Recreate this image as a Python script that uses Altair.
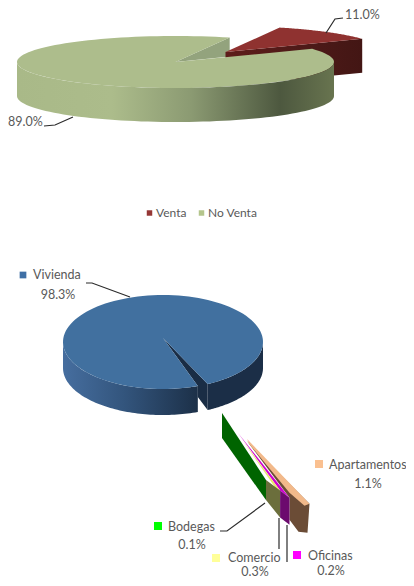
import math
import altair as alt
import pandas as pd

# ---- values ----
top_names = ["Venta", "No Venta"]
top_shares = [11.0, 89.0]
low_names = ["Vivienda", "Apartamentos", "Comercio", "Oficinas", "Bodegas"]
low_shares = [98.3, 1.1, 0.3, 0.2, 0.1]

# ---- styling ----
FONT = "Lato"
GREY = "#595959"
W, H = 398, 570


def ell(c, r, t):
    a = math.radians(t)
    return (c[0] + r[0] * math.cos(a), c[1] - r[1] * math.sin(a))


def arc(c, r, t0, t1, n=72):
    return [ell(c, r, t0 + (t1 - t0) * i / n) for i in range(n + 1)]


X = alt.X("x:Q", scale=alt.Scale(domain=[8, 406]), axis=None)
Y = alt.Y("y:Q", scale=alt.Scale(domain=[578, 8]), axis=None)


def poly(points, fill):
    df = pd.DataFrame({"x": [p[0] for p in points], "y": [p[1] for p in points], "i": range(len(points))})
    return alt.Chart(df).mark_line(interpolate="linear-closed", fill=fill, strokeWidth=0, stroke="transparent").encode(
        x=X, y=Y, order="i:Q")


def grad(stops):
    return alt.Gradient(gradient="linear", x1=0, x2=1, y1=0, y2=0,
                        stops=[alt.GradientStop(offset=o, color=c) for o, c in stops])


def side(c, r, t0, t1, depth, fill):
    pts = arc(c, r, t0, t1)
    df = pd.DataFrame({"x": [p[0] for p in pts], "y": [p[1] for p in pts], "y2": [p[1] + depth for p in pts]})
    return alt.Chart(df).mark_area(fill=fill, interpolate="linear").encode(x=X, y=Y, y2="y2:Q")


def leader(points):
    return poly_line(points, "#2b2b2b")


def poly_line(points, color):
    df = pd.DataFrame({"x": [p[0] for p in points], "y": [p[1] for p in points], "i": range(len(points))})
    return alt.Chart(df).mark_line(color=color, strokeWidth=1.2).encode(x=X, y=Y, order="i:Q")


def label(x, y, text, align="left", size=12.5, color=GREY):
    df = pd.DataFrame({"x": [x], "y": [y], "t": [text]})
    return alt.Chart(df).mark_text(font=FONT, fontSize=size, color=color, align=align, baseline="middle").encode(
        x=X, y=Y, text="t:N")


def swatch(x, y, color, size=49):
    df = pd.DataFrame({"x": [x], "y": [y]})
    return alt.Chart(df).mark_square(size=size, color=color, opacity=1).encode(x=X, y=Y)


layers = []

# ---- upper pie ----
C1, R1, D1 = (175.5, 62), (158.5, 26), 34
gap_top = top_shares[0] / 100 * 360
green_start = 70
green_end = green_start + top_shares[1] / 100 * 360
red_c = (C1[0] + 50, C1[1] - 10)
g0 = ell(C1, R1, green_start)
layers.append(poly([C1, g0, (g0[0], g0[1] + 19)], "#93a37d"))
ra, rb = ell(red_c, R1, green_end - 360 + gap_top), ell(red_c, R1, green_end - 360)
layers.append(poly([red_c, rb, (rb[0], rb[1] + D1), (red_c[0], red_c[1] + D1)],
                   grad([(0, "#5e1c1a"), (0.6, "#4d1a18"), (1, "#431614")])))
layers.append(poly([red_c] + arc(red_c, R1, green_end - 360 + gap_top, green_end - 360), "#8f3230"))
layers.append(poly([C1] + arc(C1, R1, green_start, green_end, 120), "#adbd8c"))
layers.append(side(C1, R1, 180, 360, D1,
                   grad([(0, "#a9b988"), (0.3, "#acbc8b"), (0.55, "#8b9a72"), (0.83, "#4d583f"), (1, "#68744f")])))

layers += [
    leader([(326, 33), (335, 19), (343, 18)]),
    label(345, 15, f"{top_shares[0]:.1f}%"),
    leader([(44, 126), (55, 125), (73, 117)]),
    label(8, 122, f"{top_shares[1]:.1f}%"),
    swatch(149.5, 213, "#953735", 30),
    label(156, 213, top_names[0], size=12),
    swatch(201.5, 213, "#b4c58c", 30),
    label(208, 213, top_names[1], size=12),
]

# ---- lower pie ----
C2, R2, D2 = (163, 342), (100, 47), 26
blue_start = -63.5
blue_end = blue_start + low_shares[0] / 100 * 360
e0, e1 = ell(C2, R2, blue_start), ell(C2, R2, blue_end)
layers.append(poly([(C2[0], C2[1] - 4), e1, (e1[0], e1[1] + 11), (e0[0], e0[1] + D2), e0], "#1a2d45"))
layers.append(side(C2, R2, 180, blue_end, D2, grad([(0, "#466e9f"), (0.45, "#33557d"), (1, "#1c3048")])))
layers.append(side(C2, R2, 360 + blue_start, 360, D2, "#1b2e47"))
layers.append(poly([(C2[0], C2[1] - 4)] + arc(C2, R2, blue_start, blue_end, 120), "#41709f"))

layers += [
    swatch(23, 275, "#3f6fa5", 45),
    label(33, 275, low_names[0]),
    label(58, 295, f"{low_shares[0]:.1f}%", align="center"),
    leader([(86, 283), (92, 283), (130, 297)]),
]

# ---- the four small slices, pulled out of the pie; outer widths follow the share ----
PX_PER_SHARE, MAX_RUN, SLOPE = 47, 20, 0.75
A = (222, 413)
P1 = (266, 480)
run_com = low_shares[2] * PX_PER_SHARE
run_ofi = low_shares[3] * PX_PER_SHARE
run_apt = min(low_shares[1] * PX_PER_SHARE, MAX_RUN)
P2 = (P1[0] + run_com, P1[1] + run_com * SLOPE)
P3 = (P2[0] + run_ofi, P2[1] + run_ofi * SLOPE)
P4 = (P3[0] + run_apt, P3[1] + run_apt * 0.3)
B = (247, 439)

layers += [
    poly([(B[0], B[1] + 2), P4, (P4[0] - 2, P4[1] + 29), (P4[0] - 11, P4[1] + 28), (P3[0], P3[1] + 22), P3], "#6b4c36"),
    poly([B, P4, (P4[0] - 5, P4[1] + 2), (P3[0], P3[1] - 5), (B[0] + 3, B[1] + 6)], "#f2b98a"),
    poly([(B[0] - 9, B[1] - 6), P3, P2], "#d000d0"),
    poly([(B[0] - 4, B[1] + 2), P2, (P2[0] - 3.5, P2[1] - 1)], "#e8e86a"),
    poly([A, P1, (P1[0], P1[1] + 20), (A[0], A[1] + 25)], "#006400"),
    poly([P1, P2, (P2[0], P2[1] + 27), (P1[0], P1[1] + 20)], "#6b6e3c"),
    poly([P2, P3, (P3[0], P3[1] + 27), (P2[0], P2[1] + 27)], "#6c0a6e"),
    leader([(220, 531), (227, 531), (265, 503)]),
    leader([(279, 518), (279, 549)]),
    leader([(287, 525), (287, 562)]),
    swatch(158, 526, "#00ff00", 64),
    label(168, 527, low_names[4]),
    label(192, 545, f"{low_shares[4]:.1f}%", align="center"),
    swatch(216, 558, "#ffff99", 64),
    label(228, 558, low_names[2]),
    label(255, 572, f"{low_shares[2]:.1f}%", align="center"),
    swatch(297, 555, "#ff00ff", 64),
    label(308, 556, low_names[3]),
    label(331, 571, f"{low_shares[3]:.1f}%", align="center"),
    swatch(319, 464, "#fac090", 64),
    label(329, 465, low_names[1]),
    label(368, 484, f"{low_shares[1]:.1f}%", align="center"),
]

chart = alt.layer(*layers).properties(
    width=W, height=H, padding=0, autosize=alt.AutoSizeParams(type="none"), background="white"
).configure_view(stroke=None)

chart.save("out.html", embed_options={"renderer": "svg", "actions": False})
